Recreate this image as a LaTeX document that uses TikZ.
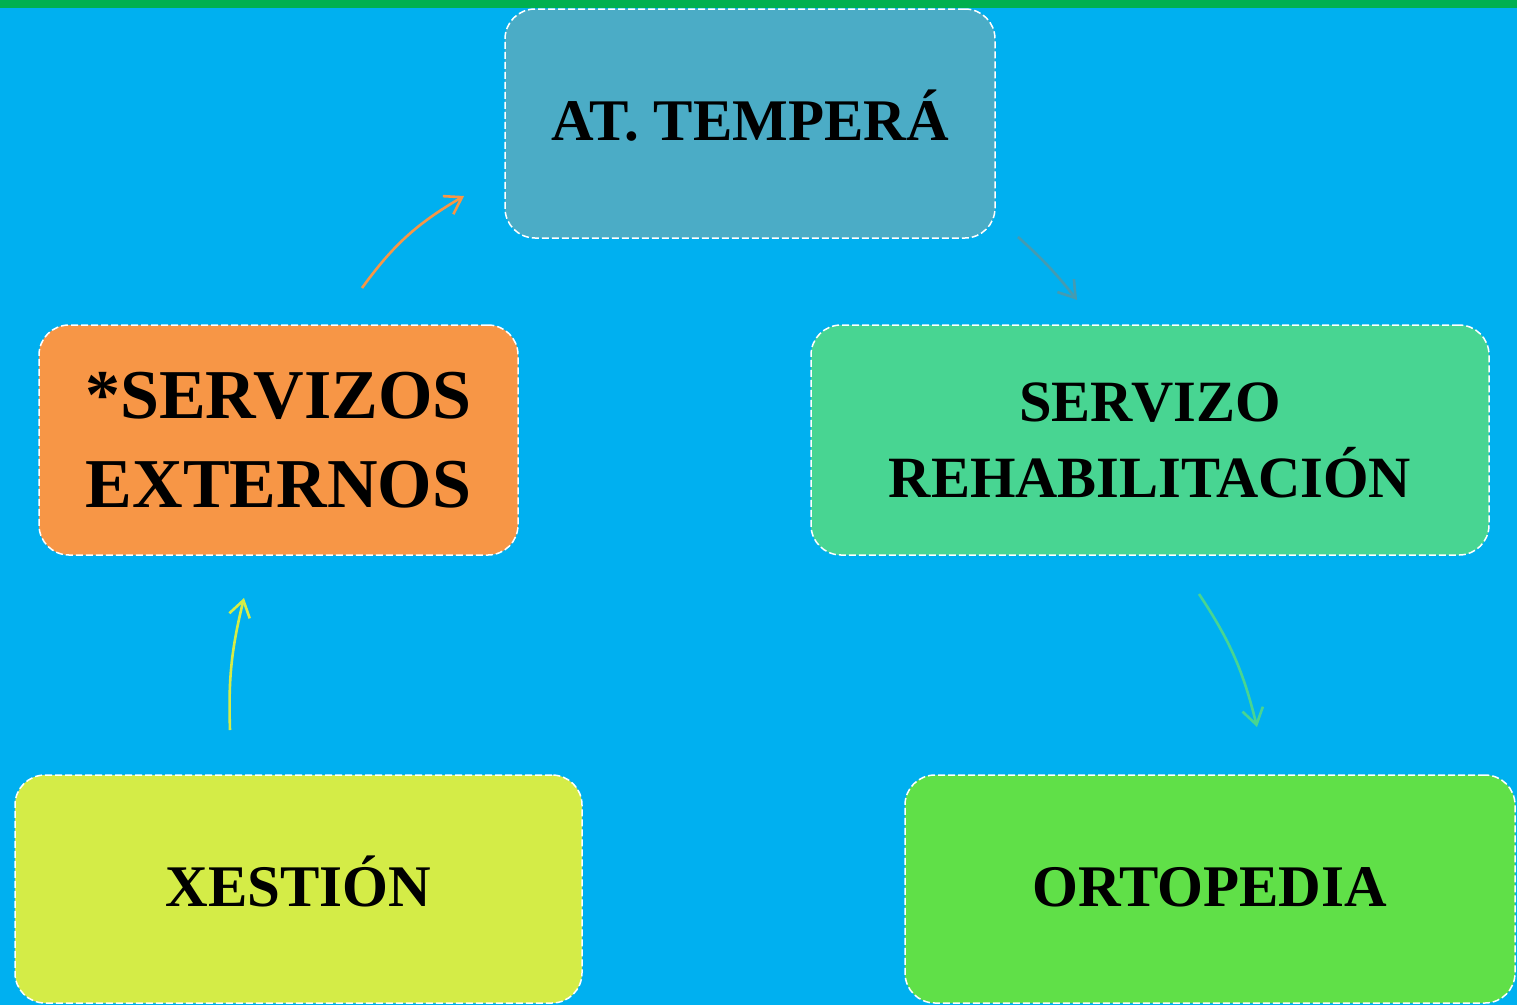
\documentclass[tikz,border=0pt]{standalone}
\usepackage{fontspec}
\setmainfont{Liberation Serif}
\usetikzlibrary{arrows.meta,bending}
\definecolor{bgblue}{HTML}{00B0F0}
\definecolor{topgreen}{HTML}{00B050}
\definecolor{cteal}{HTML}{4BACC6}
\definecolor{corange}{HTML}{F79646}
\definecolor{cmint}{HTML}{48D592}
\definecolor{clime}{HTML}{D4EC47}
\definecolor{cgreen}{HTML}{60E048}
\tikzset{
  card/.style={rectangle, rounded corners=30pt, draw=white, line width=1.5pt,
    dash pattern=on 7pt off 3pt, align=center, inner sep=0pt,
    font=\bfseries\fontsize{59}{76}\selectfont, text=black},
  oneline/.style={text height=34pt, text depth=0pt},
  cyclearrow/.style={line width=2.6pt, -{Straight Barb[length=16pt,width=21pt,line width=2.6pt]}},
}
\begin{document}
\begin{tikzpicture}[x=1pt,y=-1pt]
\fill[bgblue] (0,0) rectangle (1517,1005);
\useasboundingbox (0,0) rectangle (1517,1005);
\fill[topgreen] (0,0) rectangle (1517,7.5);

\node[card, oneline, fill=cteal, minimum width=490pt, minimum height=229pt] (at) at (750,123.5) {AT. TEMPERÁ};
\node[card, fill=corange, minimum width=479pt, minimum height=230pt,
      font=\bfseries\fontsize{70}{89}\selectfont] (ext) at (278.5,440) {*SERVIZOS\\EXTERNOS};
\node[card, fill=cmint, minimum width=678pt, minimum height=230pt,
      font=\bfseries\fontsize{58.5}{76}\selectfont] (reh) at (1150,440) {SERVIZO\\REHABILITACIÓN};
\node[card, oneline, fill=clime, minimum width=567pt, minimum height=228pt] (xes) at (298.5,889) {XESTIÓN};
\node[card, oneline, fill=cgreen, minimum width=610pt, minimum height=228pt] (ort) at (1210,889) {ORTOPEDIA};

\coordinate (a1s) at (362,288);
\coordinate (a1e) at (464,196);
\coordinate (a2s) at (1018,237);
\coordinate (a2e) at (1077,300);
\coordinate (a3s) at (1199,594);
\coordinate (a3e) at (1257,727);
\coordinate (a4s) at (230,730);
\coordinate (a4e) at (244,598);

\draw[cyclearrow, draw=corange] (a1s) to[bend left=12] (a1e);
\draw[cyclearrow, draw=cteal!90!black] (a2s) to[bend left=5] (a2e);
\draw[cyclearrow, draw=cmint] (a3s) to[bend left=10] (a3e);
\draw[cyclearrow, draw=clime] (a4s) to[bend left=8] (a4e);
\end{tikzpicture}
\end{document}
